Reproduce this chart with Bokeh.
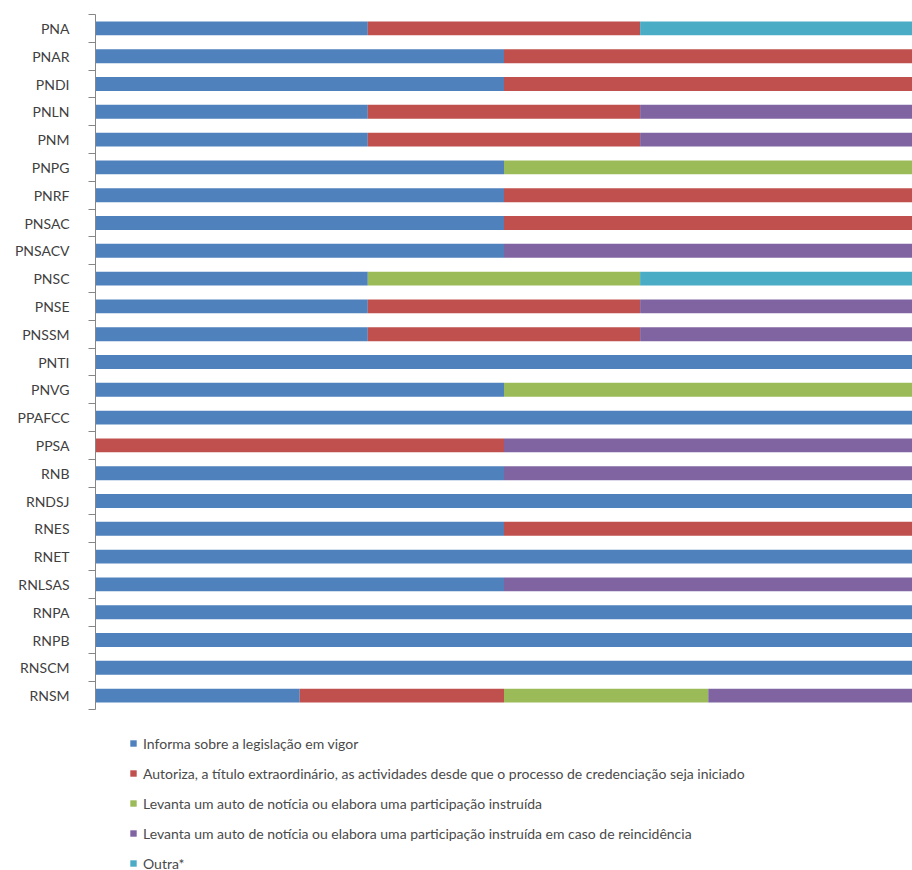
from bokeh.plotting import figure
from bokeh.models import Range1d, FixedTicker, Legend, LegendItem, ColumnDataSource
from bokeh.embed import file_html
from bokeh.resources import INLINE

categories = ["PNA", "PNAR", "PNDI", "PNLN", "PNM", "PNPG", "PNRF", "PNSAC", "PNSACV",
              "PNSC", "PNSE", "PNSSM", "PNTI", "PNVG", "PPAFCC", "PPSA", "RNB", "RNDSJ",
              "RNES", "RNET", "RNLSAS", "RNPA", "RNPB", "RNSCM", "RNSM"]

informa = [33.33, 50, 50, 33.33, 33.33, 50, 50, 50, 50, 33.33, 33.33, 33.33, 100, 50, 100, 0, 50, 100, 50, 100, 50, 100, 100, 100, 25]
autoriza = [33.33, 50, 50, 33.33, 33.33, 0, 50, 50, 0, 0, 33.33, 33.33, 0, 0, 0, 50, 0, 0, 50, 0, 0, 0, 0, 0, 25]
levanta = [0, 0, 0, 0, 0, 50, 0, 0, 0, 33.33, 0, 0, 0, 50, 0, 0, 0, 0, 0, 0, 0, 0, 0, 0, 25]
levanta_reinc = [0, 0, 0, 33.34, 33.34, 0, 0, 0, 50, 0, 33.34, 33.34, 0, 0, 0, 50, 50, 0, 0, 0, 50, 0, 0, 0, 25]
outra = [33.34, 0, 0, 0, 0, 0, 0, 0, 0, 33.34, 0, 0, 0, 0, 0, 0, 0, 0, 0, 0, 0, 0, 0, 0, 0]

series_names = [
    "Informa sobre a legislação em vigor",
    "Autoriza, a título extraordinário, as actividades desde que o processo de credenciação seja iniciado",
    "Levanta um auto de notícia ou elabora uma participação instruída",
    "Levanta um auto de notícia ou elabora uma participação instruída em caso de reincidência",
    "Outra*",
]
colors = ["#4F81BD", "#C0504D", "#9BBB59", "#8064A2", "#4BACC6"]

keys = ["s0", "s1", "s2", "s3", "s4"]
n = len(categories)
ypos = list(range(n))
src = ColumnDataSource(dict(y=ypos, s0=informa, s1=autoriza, s2=levanta, s3=levanta_reinc, s4=outra))

fig_h = 870
top = 14
frame_h = fig_h - top
span = frame_h / 27.8

p = figure(width=912, height=fig_h, output_backend="svg", toolbar_location=None,
           x_range=Range1d(0, 100), y_range=Range1d(-0.5 + span, -0.5),
           min_border_left=95, min_border_right=0, min_border_top=top, min_border_bottom=0)
p.outline_line_color = None
p.grid.visible = False
p.xaxis.visible = False

renderers = p.hbar_stack(keys, y="y", height=0.5, color=colors, source=src, line_color=None)

yaxis = p.yaxis[0]
yaxis.bounds = (-0.5, n - 0.5)
yaxis.ticker = FixedTicker(ticks=ypos, minor_ticks=[i - 0.5 for i in range(n + 1)])
yaxis.major_label_overrides = {i: c for i, c in enumerate(categories)}
yaxis.major_tick_out = 0
yaxis.major_tick_in = 0
yaxis.minor_tick_out = 7
yaxis.minor_tick_in = 0
yaxis.minor_tick_line_color = "#868686"
yaxis.axis_line_color = "#868686"
yaxis.major_label_text_font = "Lato"
yaxis.major_label_text_font_size = "14px"
yaxis.major_label_text_color = "#404040"
yaxis.major_label_standoff = 19

items = [LegendItem(label=name, renderers=[r]) for name, r in zip(series_names, renderers)]
legend = Legend(items=items, orientation="vertical", location=(34, -2),
                label_text_font="Lato", label_text_font_size="14px", label_text_color="#4a4a4a",
                glyph_width=8, glyph_height=8, label_height=18, spacing=12, label_standoff=6,
                padding=0, margin=0, border_line_color=None, background_fill_alpha=0)
p.add_layout(legend, "center")

open("out.html", "w").write(file_html(p, INLINE))
